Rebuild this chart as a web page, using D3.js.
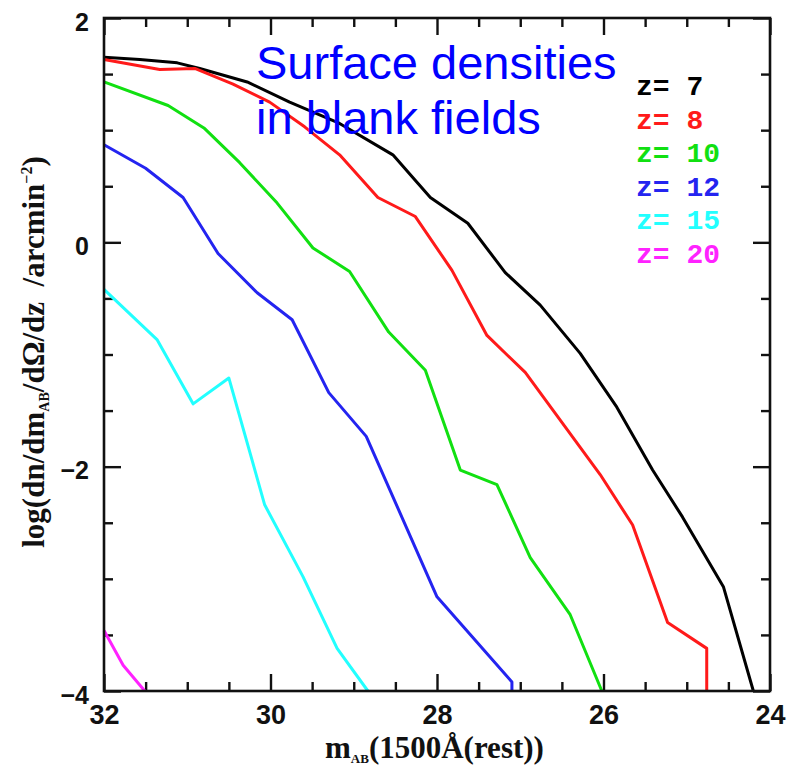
<!DOCTYPE html>
<html>
<head>
<meta charset="utf-8">
<script src="https://cdn.jsdelivr.net/npm/d3@7"></script>
<style>
  body { margin: 0; background: #fff; }
  text { white-space: pre; }
</style>
</head>
<body>
<svg id="chart" width="790" height="770"></svg>
<script>
// Surface density of galaxies per unit magnitude and redshift vs apparent UV magnitude
const redshifts = ["7", "8", "10", "12", "15", "20"];
const lineColors = ["#000000", "#ff1a1a", "#11e011", "#2424f0", "#22ffff", "#ff22ff"];

const z7Mag  = [32.00, 31.57, 31.12, 30.85, 30.28, 29.77, 29.17, 28.53, 28.08, 27.63, 27.18, 26.76, 26.28, 25.84, 25.41, 25.05, 24.56, 24.20];
const z7Log  = [1.65, 1.63, 1.60, 1.55, 1.43, 1.25, 1.06, 0.78, 0.40, 0.17, -0.27, -0.56, -0.99, -1.47, -2.03, -2.45, -3.07, -4.00];

const z8Mag  = [32.00, 31.33, 30.91, 30.45, 30.01, 29.59, 29.17, 28.71, 28.26, 27.82, 27.40, 26.94, 26.04, 25.65, 25.23, 24.76, 24.76];
const z8Log  = [1.63, 1.54, 1.55, 1.41, 1.25, 1.03, 0.78, 0.40, 0.23, -0.25, -0.83, -1.16, -2.07, -2.52, -3.39, -3.62, -4.00];

const z10Mag = [32.00, 31.23, 30.80, 30.37, 29.92, 29.49, 29.05, 28.58, 28.14, 27.72, 27.28, 26.88, 26.40, 26.02];
const z10Log = [1.43, 1.22, 1.02, 0.71, 0.35, -0.05, -0.26, -0.80, -1.14, -2.03, -2.16, -2.81, -3.32, -4.00];

const z12Mag = [32.00, 31.50, 31.05, 30.63, 30.16, 29.74, 29.30, 28.85, 28.00, 27.10, 27.10];
const z12Log = [0.87, 0.66, 0.40, -0.10, -0.45, -0.69, -1.34, -1.73, -3.16, -3.92, -4.00];

const z15Mag = [32.00, 31.36, 30.93, 30.50, 30.07, 29.61, 29.20, 28.83];
const z15Log = [-0.42, -0.87, -1.44, -1.21, -2.34, -2.98, -3.62, -4.00];

const z20Mag = [32.00, 31.77, 31.51];
const z20Log = [-3.46, -3.77, -4.00];

const xMajorTicks = [32, 30, 28, 26, 24];
const yMajorTicks = [2, 0, -2, -4];

const titleLines = ["Surface densities", "in blank fields"];

const seriesMags = [z7Mag, z8Mag, z10Mag, z12Mag, z15Mag, z20Mag];
const seriesLogs = [z7Log, z8Log, z10Log, z12Log, z15Log, z20Log];

const svg = d3.select("#chart");
const plot = { left: 104, top: 18, right: 770, bottom: 691 };

const x = d3.scaleLinear().domain([32, 24]).range([plot.left, plot.right]);
const y = d3.scaleLinear().domain([-4, 2]).range([plot.bottom, plot.top]);

const xMinor = d3.range(24, 32.001, 0.5).filter(v => !xMajorTicks.includes(v));
const yMinor = d3.range(-4, 2.001, 0.5).filter(v => !yMajorTicks.includes(v));

const MAJOR = 17, MINOR = 9;
const sans = "'Liberation Sans', Arial, Helvetica, sans-serif";
const serif = "'Liberation Serif', 'Times New Roman', serif";
const intFormat = d3.format("d");

function styleAxis(g) {
  g.select(".domain").remove();
  g.selectAll(".tick line").attr("stroke", "#111").attr("stroke-width", 2.4);
}

// bottom axis: labelled majors + minors
svg.append("g").attr("transform", `translate(0,${plot.bottom})`)
  .call(d3.axisBottom(x).tickValues(xMajorTicks).tickSize(-MAJOR).tickPadding(14).tickFormat(intFormat))
  .call(styleAxis)
  .call(g => g.selectAll("text").attr("font-family", sans).attr("font-weight", "bold")
    .attr("font-size", 27).attr("fill", "#111"));
svg.append("g").attr("transform", `translate(0,${plot.bottom})`)
  .call(d3.axisBottom(x).tickValues(xMinor).tickSize(-MINOR).tickFormat(""))
  .call(styleAxis);

// top axis
svg.append("g").attr("transform", `translate(0,${plot.top})`)
  .call(d3.axisTop(x).tickValues(xMajorTicks).tickSize(-MAJOR).tickFormat(""))
  .call(styleAxis);
svg.append("g").attr("transform", `translate(0,${plot.top})`)
  .call(d3.axisTop(x).tickValues(xMinor).tickSize(-MINOR).tickFormat(""))
  .call(styleAxis);

// left axis
svg.append("g").attr("transform", `translate(${plot.left},0)`)
  .call(d3.axisLeft(y).tickValues(yMajorTicks).tickSize(-MAJOR).tickPadding(15).tickFormat(intFormat))
  .call(styleAxis)
  .call(g => g.selectAll("text").attr("font-family", sans).attr("font-weight", "bold")
    .attr("font-size", 25).attr("dy", "0.48em").attr("fill", "#111"));
svg.append("g").attr("transform", `translate(${plot.left},0)`)
  .call(d3.axisLeft(y).tickValues(yMinor).tickSize(-MINOR).tickFormat(""))
  .call(styleAxis);

// right axis
svg.append("g").attr("transform", `translate(${plot.right},0)`)
  .call(d3.axisRight(y).tickValues(yMajorTicks).tickSize(-MAJOR).tickFormat(""))
  .call(styleAxis);
svg.append("g").attr("transform", `translate(${plot.right},0)`)
  .call(d3.axisRight(y).tickValues(yMinor).tickSize(-MINOR).tickFormat(""))
  .call(styleAxis);

// curves
const line = d3.line().x(d => x(d[0])).y(d => y(d[1]));
svg.append("g").selectAll("path")
  .data(redshifts.map((z, i) => ({ z, color: lineColors[i], pts: d3.zip(seriesMags[i], seriesLogs[i]) })))
  .join("path")
  .attr("d", d => line(d.pts))
  .attr("fill", "none")
  .attr("stroke", d => d.color)
  .attr("stroke-width", 3)
  .attr("stroke-linejoin", "round");

// frame
svg.append("rect")
  .attr("x", plot.left).attr("y", plot.top)
  .attr("width", plot.right - plot.left).attr("height", plot.bottom - plot.top)
  .attr("fill", "none").attr("stroke", "#111").attr("stroke-width", 2.6);

// legend
svg.append("g").selectAll("text")
  .data(redshifts)
  .join("text")
  .attr("x", 636)
  .attr("y", (d, i) => 95 + i * 33.6)
  .attr("font-family", "'Liberation Mono', 'Courier New', monospace")
  .attr("font-weight", "bold")
  .attr("font-size", 28)
  .attr("fill", (d, i) => lineColors[i])
  .text(d => `z= ${d}`);

// title
svg.append("g").selectAll("text")
  .data(titleLines)
  .join("text")
  .attr("x", 256)
  .attr("y", (d, i) => 79 + i * 55)
  .attr("font-family", sans)
  .attr("font-size", 47)
  .attr("fill", "#0000ff")
  .text(d => d);

// x-axis title
const xt = svg.append("text")
  .attr("x", 325).attr("y", 758)
  .attr("font-family", serif).attr("font-weight", "bold")
  .attr("font-size", 31).attr("fill", "#111");
xt.append("tspan").text("m");
xt.append("tspan").attr("font-size", 13).attr("dy", 5).text("AB");
xt.append("tspan").attr("dy", -5).text("(1500Å(rest))");

// y-axis title
const yt = svg.append("text")
  .attr("transform", "translate(44,352) rotate(-90)")
  .attr("text-anchor", "middle")
  .attr("font-family", serif).attr("font-weight", "bold")
  .attr("font-size", 31).attr("fill", "#111");
yt.append("tspan").text("log(dn/dm");
yt.append("tspan").attr("font-size", 14).attr("dy", 5).text("AB");
yt.append("tspan").attr("dy", -5).text("/dΩ/dz  /arcmin");
yt.append("tspan").attr("font-size", 16).attr("dy", -12).text("−2");
yt.append("tspan").attr("dy", 12).text(")");
</script>
</body>
</html>
